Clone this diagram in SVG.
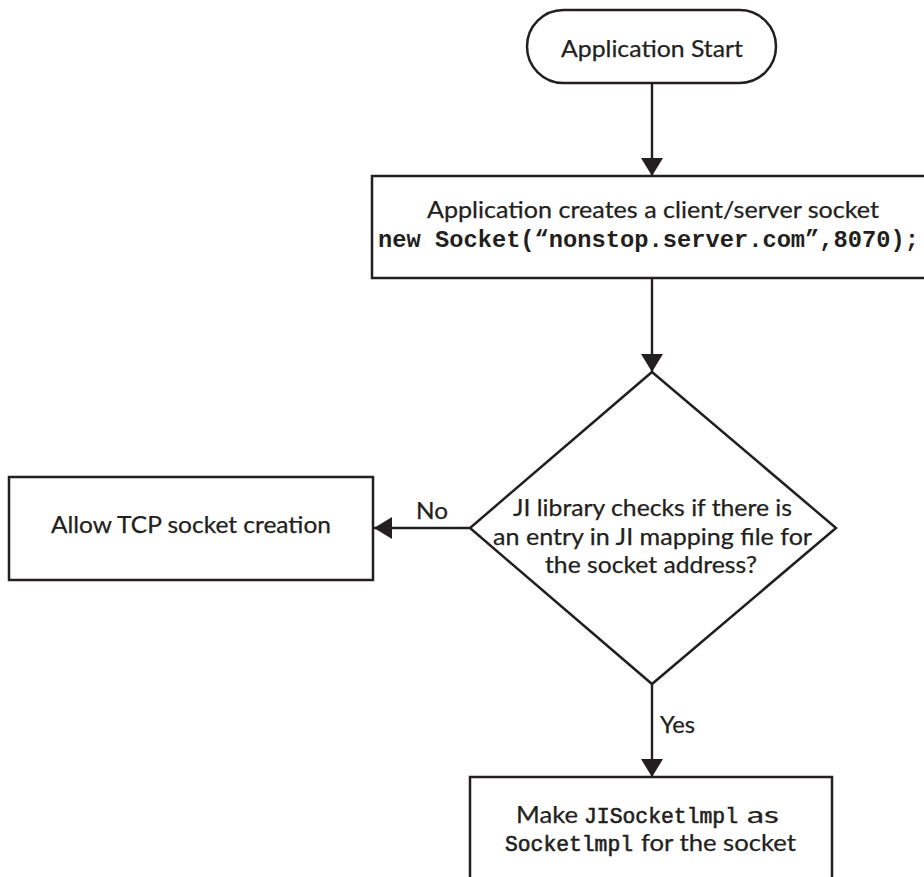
<svg xmlns="http://www.w3.org/2000/svg" width="924" height="877" viewBox="0 0 924 877">
  <style>
    .shape { fill: #ffffff; stroke: #231f20; stroke-width: 2.5; }
    .edge { fill: none; stroke: #231f20; stroke-width: 2.4; }
    .label { font-family: Lato, "Liberation Sans", sans-serif; font-size: 22.5px; fill: #231f20; stroke: #231f20; stroke-width: 0.25; }
    .code { font-family: "Liberation Mono", "Courier New", monospace; font-weight: bold; fill: #231f20; }
    .code-light { font-family: "Liberation Mono", "Courier New", monospace; fill: #231f20; stroke: #231f20; stroke-width: 0.6; }
  </style>
  <defs>
    <marker id="arrow" viewBox="0 0 18 22" refX="18" refY="11" markerWidth="18" markerHeight="22" markerUnits="userSpaceOnUse" orient="auto">
      <path d="M0,0 L18,11 L0,22 Z" fill="#231f20"/>
    </marker>
  </defs>

  <rect width="924" height="877" fill="#ffffff"/>

  <!-- connectors -->
  <g id="connectors">
    <path class="edge" d="M652,83 V176" marker-end="url(#arrow)"/>
    <path class="edge" d="M652,278 V372" marker-end="url(#arrow)"/>
    <path class="edge" d="M470,528 H374" marker-end="url(#arrow)"/>
    <path class="edge" d="M652,684 V777" marker-end="url(#arrow)"/>
    <text class="label" x="416" y="519" textLength="32" lengthAdjust="spacingAndGlyphs">No</text>
    <text class="label" x="660" y="733" textLength="35" lengthAdjust="spacingAndGlyphs">Yes</text>
  </g>

  <!-- start terminal -->
  <g id="start">
    <rect class="shape" x="527" y="10" width="249" height="73" rx="36.5" ry="36.5"/>
    <text class="label" x="652" y="57" text-anchor="middle" textLength="182" lengthAdjust="spacingAndGlyphs">Application Start</text>
  </g>

  <!-- socket creation step -->
  <g id="create-socket">
    <rect class="shape" x="372" y="176" width="570" height="102"/>
    <text class="label" x="653" y="218" text-anchor="middle" textLength="452" lengthAdjust="spacingAndGlyphs">Application creates a client/server socket</text>
    <text class="code" x="378" y="247" font-size="23.5" textLength="541" lengthAdjust="spacingAndGlyphs">new Socket(“nonstop.server.com”,8070);</text>
  </g>

  <!-- mapping decision -->
  <g id="mapping-check">
    <polygon class="shape" points="652,372 836,528 652,684 470,528"/>
    <text class="label" x="652.5" y="516" text-anchor="middle" textLength="279" lengthAdjust="spacingAndGlyphs">JI library checks if there is</text>
    <text class="label" x="652.5" y="545" text-anchor="middle" textLength="319" lengthAdjust="spacingAndGlyphs">an entry in JI mapping file for</text>
    <text class="label" x="651" y="573" text-anchor="middle" textLength="212" lengthAdjust="spacingAndGlyphs">the socket address?</text>
  </g>

  <!-- plain TCP path -->
  <g id="allow-tcp">
    <rect class="shape" x="9" y="477" width="364" height="103"/>
    <text class="label" x="51" y="533" textLength="280" lengthAdjust="spacingAndGlyphs">Allow TCP socket creation</text>
  </g>

  <!-- JI socket impl path -->
  <g id="ji-impl">
    <rect class="shape" x="470" y="777" width="362" height="120"/>
    <text y="823">
      <tspan class="label" x="516" textLength="62" lengthAdjust="spacingAndGlyphs">Make</tspan>
      <tspan class="code-light" x="584" font-size="21.3" textLength="154" lengthAdjust="spacingAndGlyphs">JISocketlmpl</tspan>
      <tspan class="label" x="747" textLength="32" lengthAdjust="spacingAndGlyphs">as</tspan>
    </text>
    <text y="851">
      <tspan class="code-light" x="505" font-size="21.3" textLength="128" lengthAdjust="spacingAndGlyphs">Socketlmpl</tspan>
      <tspan class="label" x="641" textLength="155" lengthAdjust="spacingAndGlyphs">for the socket</tspan>
    </text>
  </g>
</svg>
